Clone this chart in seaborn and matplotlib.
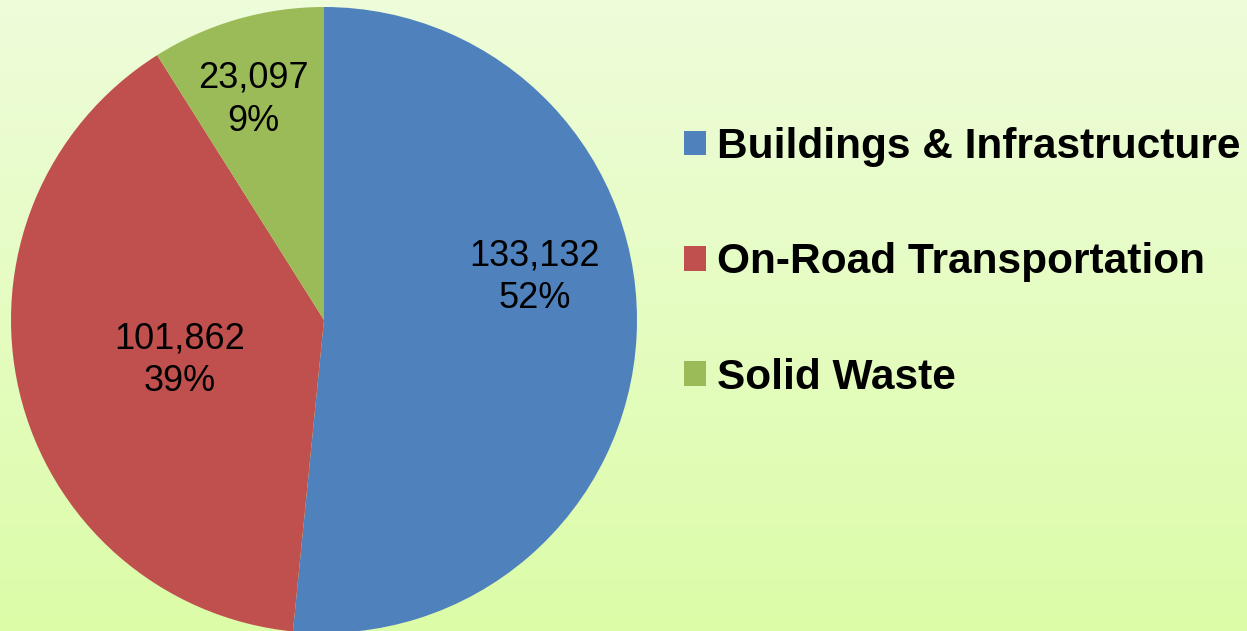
import numpy as np
import matplotlib
matplotlib.use('Agg')
import matplotlib.pyplot as plt
from matplotlib.colors import LinearSegmentedColormap
import seaborn as sns

# data
categories = ['Buildings & Infrastructure', 'On-Road Transportation', 'Solid Waste']
emissions = [133132, 101862, 23097]
colors = ['#4F81BD', '#C0504D', '#9BBB59']
# where the value labels sit inside each slice (pie data coords)
label_pos = [(0.674, 0.137), (-0.46, -0.128), (-0.226, 0.703)]

sns.set_theme(style='white')
plt.rcParams['font.family'] = ['Liberation Sans', 'DejaVu Sans']

fig = plt.figure(figsize=(12.47, 6.31), dpi=100)

# light green vertical gradient background
bg = fig.add_axes([0, 0, 1, 1], zorder=-10)
grad_cmap = LinearSegmentedColormap.from_list('bg', ['#EEFDDA', '#DCFCA8'])
bg.imshow(np.linspace(0, 1, 256).reshape(-1, 1), aspect='auto', cmap=grad_cmap,
          extent=[0, 1, 0, 1], origin='upper')
bg.set_axis_off()

ax = fig.add_axes([11 / 1247, -2 / 631, 626 / 1247, 626 / 631])
ax.patch.set_alpha(0)
wedges, _ = ax.pie(emissions, colors=colors, startangle=90, counterclock=False,
                   radius=1, wedgeprops=dict(linewidth=0))
ax.set_xlim(-1, 1)
ax.set_ylim(-1, 1)
ax.set_aspect('equal')
ax.set_axis_off()

total = sum(emissions)
for val, (x, y) in zip(emissions, label_pos):
    pct = round(100 * val / total)
    ax.text(x, y, f'{val:,}\n{pct}%', ha='center', va='center', fontsize=26,
            linespacing=1.3, color='black')

leg = fig.legend(wedges, categories, loc='upper left', bbox_to_anchor=(684 / 1247, 1 - 127 / 631),
                 frameon=False, prop=dict(size=30.5, weight='bold'),
                 handlelength=0.52, handleheight=0.52, handletextpad=0.25,
                 labelspacing=1.78, borderaxespad=0, borderpad=0)
for t in leg.get_texts():
    t.set_color('black')

fig.savefig('out.png', dpi=100)
